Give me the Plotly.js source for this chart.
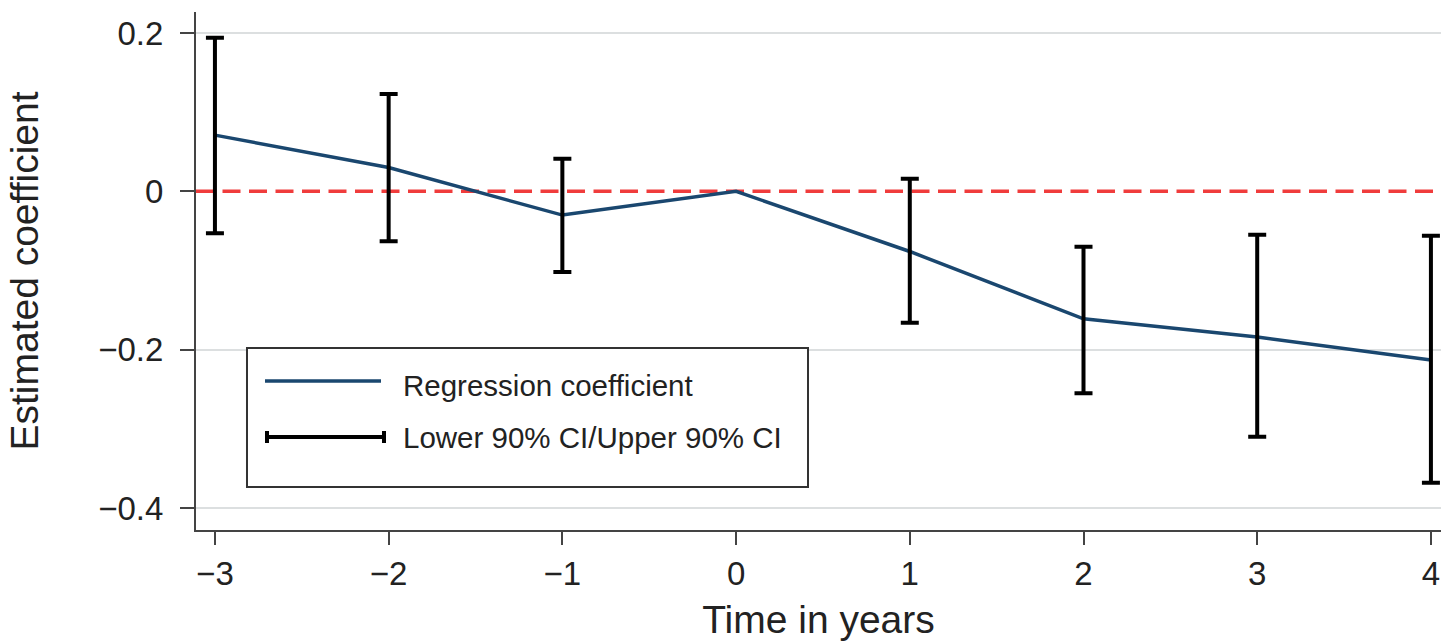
<!DOCTYPE html>
<html>
<head>
<meta charset="utf-8">
<script src="https://cdn.plot.ly/plotly-3.0.1.min.js"></script>
<style>
  html, body { margin: 0; padding: 0; background: #ffffff; }
  #chart { width: 1441px; height: 643px; }
</style>
</head>
<body>
<div id="chart"></div>
<script>
// ---- data ----
const years = [-3, -2, -1, 0, 1, 2, 3, 4];
const coefficient = [0.071, 0.030, -0.030, 0.000, -0.076, -0.161, -0.184, -0.213];
const ciYears = [-3, -2, -1, 1, 2, 3, 4];
const ciUpper = [0.194, 0.123, 0.041, 0.016, -0.070, -0.055, -0.056];
const ciLower = [-0.053, -0.063, -0.102, -0.166, -0.255, -0.310, -0.368];
const xTicks = [-3, -2, -1, 0, 1, 2, 3, 4];
const xTickText = ['\u22123', '\u22122', '\u22121', '0', '1', '2', '3', '4'];
const yTicks = [-0.4, -0.2, 0, 0.2];
const yTickText = ['\u22120.4', '\u22120.2', '0', '0.2'];
const legendLabels = ['Regression coefficient', 'Lower 90% CI/Upper 90% CI'];
const xTitle = 'Time in years';
const yTitle = 'Estimated coefficient';

const NAVY = '#1a476f';
const FONT = 'Liberation Sans, Arial, Helvetica, sans-serif';
const TXT = '#222222';
const Y_RANGE = [-0.4278, 0.2265];

const lineTrace = {
  x: years, y: coefficient, type: 'scatter', mode: 'lines',
  line: {color: NAVY, width: 3.5}, showlegend: false, hoverinfo: 'x+y'
};
const ciTrace = {
  x: ciYears, y: ciUpper, type: 'scatter', mode: 'markers',
  marker: {size: 1, opacity: 0},
  error_y: {
    type: 'data', symmetric: false,
    array: ciUpper.map(() => 0),
    arrayminus: ciUpper.map((u, i) => u - ciLower[i]),
    color: '#000000', thickness: 4, width: 9
  },
  showlegend: false, hoverinfo: 'skip'
};
// invisible trace that owns the grid-only overlay axis
const gridTrace = {
  x: [years[0]], y: [coefficient[0]], yaxis: 'y2', type: 'scatter', mode: 'markers',
  marker: {opacity: 0}, showlegend: false, hoverinfo: 'skip'
};

// reference line + hand-drawn legend (paper coordinates)
const shapes = [
  {type: 'line', xref: 'paper', yref: 'y', x0: 0, x1: 1, y0: 0, y1: 0,
   line: {color: '#f03c3c', width: 3.5, dash: '18px,8.5px'}, layer: 'below'},
  {type: 'rect', xref: 'paper', yref: 'paper', x0: 0.04096, x1: 0.49157, y0: 0.08301, y1: 0.35135,
   line: {color: '#333333', width: 2}, fillcolor: '#ffffff', layer: 'above'},
  {type: 'line', xref: 'paper', yref: 'paper', x0: 0.05542, x1: 0.14859, y0: 0.28764, y1: 0.28764,
   line: {color: NAVY, width: 3.5}, layer: 'above'},
  {type: 'line', xref: 'paper', yref: 'paper', x0: 0.05703, x1: 0.15100, y0: 0.17954, y1: 0.17954,
   line: {color: '#000000', width: 4}, layer: 'above'},
  {type: 'line', xref: 'paper', yref: 'paper', x0: 0.05703, x1: 0.05703, y0: 0.16795, y1: 0.19112,
   line: {color: '#000000', width: 4}, layer: 'above'},
  {type: 'line', xref: 'paper', yref: 'paper', x0: 0.15100, x1: 0.15100, y0: 0.16795, y1: 0.19112,
   line: {color: '#000000', width: 4}, layer: 'above'}
];
const annotations = [
  {xref: 'paper', yref: 'paper', x: 0.1647, y: 0.2799, xanchor: 'left', yanchor: 'middle',
   text: legendLabels[0], showarrow: false, font: {family: FONT, size: 29.5, color: TXT}},
  {xref: 'paper', yref: 'paper', x: 0.1647, y: 0.1795, xanchor: 'left', yanchor: 'middle',
   text: legendLabels[1], showarrow: false, font: {family: FONT, size: 29.5, color: TXT}}
];

const layout = {
  width: 1441, height: 643,
  margin: {l: 196, r: 0, t: 12, b: 113},
  paper_bgcolor: '#ffffff', plot_bgcolor: '#ffffff',
  font: {family: FONT, color: TXT},
  showlegend: false,
  xaxis: {
    range: [-3.109, 4.058], tickmode: 'array', tickvals: xTicks, ticktext: xTickText,
    ticks: 'outside', ticklen: 13, tickwidth: 2, tickcolor: '#444444',
    showline: true, linecolor: '#444444', linewidth: 2,
    showgrid: false, zeroline: false,
    tickfont: {family: FONT, size: 33, color: TXT},
    title: {text: xTitle, font: {family: FONT, size: 39, color: TXT}, standoff: 15},
    automargin: false
  },
  yaxis: {
    range: Y_RANGE, tickmode: 'array', tickvals: yTicks, ticktext: yTickText,
    ticks: 'outside', ticklen: 14, tickwidth: 2, tickcolor: '#444444',
    showline: true, linecolor: '#444444', linewidth: 2,
    showgrid: false, zeroline: false,
    tickfont: {family: FONT, size: 33, color: TXT},
    ticklabelstandoff: 10,
    title: {text: yTitle, font: {family: FONT, size: 39, color: TXT}, standoff: 48},
    automargin: false
  },
  yaxis2: {
    overlaying: 'y', side: 'left', range: Y_RANGE,
    tickmode: 'array', tickvals: yTicks.filter(v => v !== 0),
    showticklabels: false, ticks: '', showline: false, zeroline: false,
    showgrid: true, gridcolor: '#dcdfe0', gridwidth: 2, automargin: false
  },
  shapes: shapes,
  annotations: annotations
};

Plotly.newPlot('chart', [gridTrace, lineTrace, ciTrace], layout, {displayModeBar: false, staticPlot: true});
</script>
</body>
</html>
